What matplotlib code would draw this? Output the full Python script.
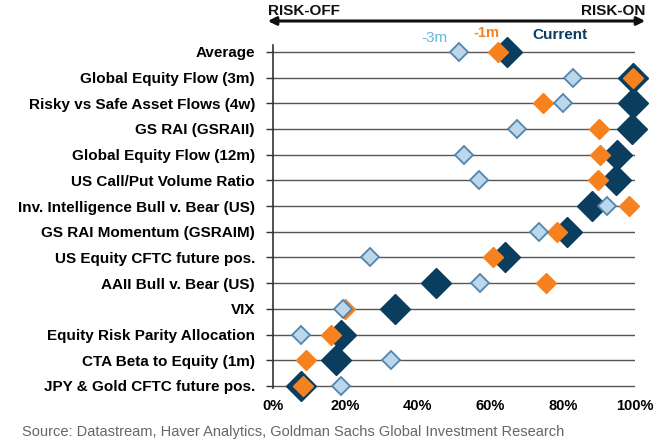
import numpy as np
import matplotlib.pyplot as plt
from matplotlib.patches import FancyArrowPatch

# indicadores (de arriba hacia abajo)
labels = ["Average", "Global Equity Flow (3m)", "Risky vs Safe Asset Flows (4w)",
          "GS RAI (GSRAII)", "Global Equity Flow (12m)", "US Call/Put Volume Ratio",
          "Inv. Intelligence Bull v. Bear (US)", "GS RAI Momentum (GSRAIM)",
          "US Equity CFTC future pos.", "AAII Bull v. Bear (US)", "VIX",
          "Equity Risk Parity Allocation", "CTA Beta to Equity (1m)",
          "JPY & Gold CFTC future pos."]

current = [64.7, 99.5, 99.5, 99.1, 94.9, 94.7, 88.0, 81.1, 64.0, 44.9, 33.6, 18.9, 17.3, 7.8]
m1 = [62.0, 99.5, 74.5, 90.1, 90.3, 89.7, 98.4, 78.4, 60.8, 75.4, 20.0, 16.0, 9.2, 8.3]
m3 = [51.4, 82.8, 80.2, 67.5, 52.7, 57.0, 92.2, 73.4, 26.7, 57.1, 19.4, 7.8, 32.7, 18.9]

xticks = [0, 20, 40, 60, 80, 100]

navy = "#0a3d5e"
orange = "#f5821f"
lblue_face = "#bcd6ea"
lblue_edge = "#4f86b0"

fig = plt.figure(figsize=(6.7, 4.45), dpi=100)
ax = fig.add_axes([0.4075, 0.128, 0.5405, 0.77])

n = len(labels)
y = np.arange(n)[::-1]

for yy in y:
    ax.plot([0, 100], [yy, yy], color="#555555", lw=1.0, zorder=1)

ax.plot(current, y, "D", ms=15, color=navy, mec=navy, ls="none", zorder=3, clip_on=False)
ax.plot(m1, y, "D", ms=10, color=orange, mec=orange, ls="none", zorder=4, clip_on=False)
ax.plot(m3, y, "D", ms=9.2, mfc=lblue_face, mec=lblue_edge, mew=1.3, ls="none", zorder=5,
        clip_on=False)

ax.set_xlim(0, 100)
ax.set_ylim(-0.08, n - 1 + 0.25)
ax.set_yticks(y)
ax.set_yticklabels(labels, fontsize=11, fontweight="bold", family="Liberation Sans")
ax.set_xticks(xticks)
ax.set_xticklabels([f"{t}%" for t in xticks], fontsize=10.5, fontweight="bold", family="Liberation Sans")
ax.tick_params(axis="y", length=5, width=1, pad=8, color="#333333")
ax.tick_params(axis="x", length=0, pad=8)
for s in ["top", "right", "bottom"]:
    ax.spines[s].set_visible(False)
ax.spines["left"].set_color("#333333")
ax.spines["left"].set_linewidth(1.2)
ax.patch.set_alpha(0)

# flecha RISK-OFF / RISK-ON
fig.patches.append(FancyArrowPatch(
    (265 / 670, 1 - 21 / 445), (648 / 670, 1 - 21 / 445), transform=fig.transFigure,
    arrowstyle="<|-|>", mutation_scale=12, lw=2.2, color="#111111"))
fig.text(268 / 670, 1 - 11 / 445, "RISK-OFF", fontsize=11, fontweight="bold",
         family="Liberation Sans", color="#111111", va="center", ha="left")
fig.text(645 / 670, 1 - 11 / 445, "RISK-ON", fontsize=11, fontweight="bold",
         family="Liberation Sans", color="#111111", va="center", ha="right")

fig.text(434 / 670, 1 - 38 / 445, "-3m", fontsize=11, color="#6db4e0",
         family="Liberation Sans", ha="center", va="center")
fig.text(486 / 670, 1 - 33 / 445, "-1m", fontsize=10.5, fontweight="bold", color=orange,
         family="Liberation Sans", ha="center", va="center")
fig.text(560 / 670, 1 - 35 / 445, "Current", fontsize=11, fontweight="bold", color=navy,
         family="Liberation Sans", ha="center", va="center")

fig.text(22 / 670, 1 - 432 / 445,
         "Source: Datastream, Haver Analytics, Goldman Sachs Global Investment Research",
         fontsize=10.5, color="#666666", family="Liberation Sans",
         ha="left", va="center")

fig.savefig("out.png", dpi=100)
